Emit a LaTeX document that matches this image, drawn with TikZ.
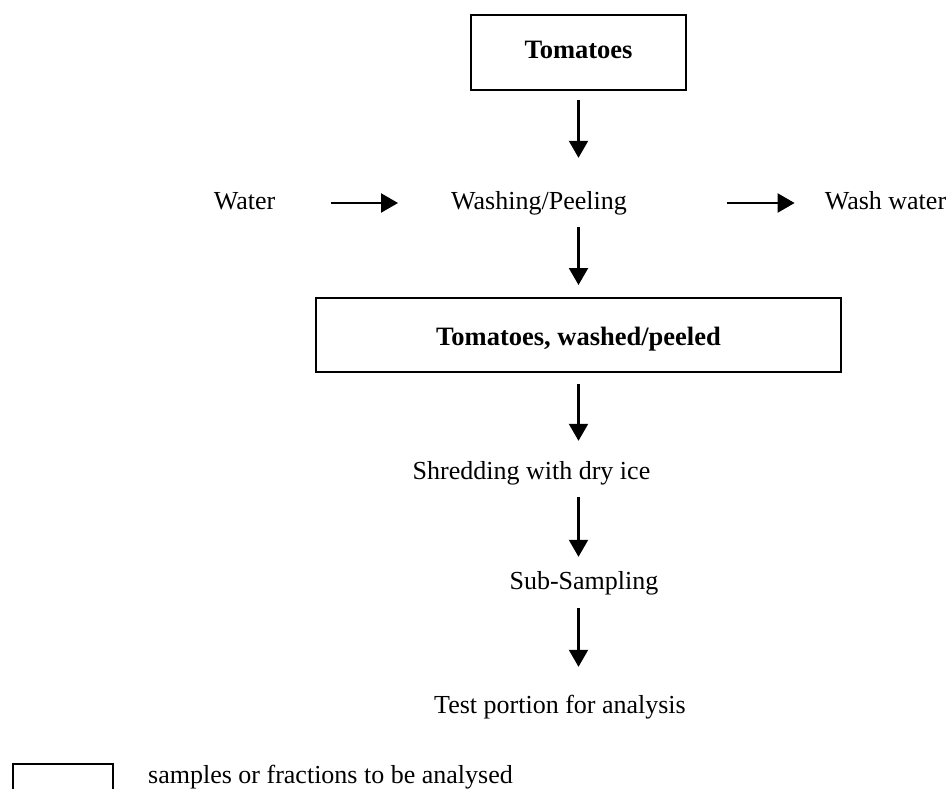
\documentclass[tikz,border=0pt]{standalone}
\usepackage{fontspec}
\setmainfont{Liberation Serif}
\usetikzlibrary{arrows.meta,positioning}

\begin{document}
\begin{tikzpicture}[x=1pt, y=-1pt,
    every node/.style={font=\fontsize{26}{31}\selectfont, inner sep=0pt, text height=18pt, text depth=6pt},
    samplebox/.style={draw, line width=2pt, font=\fontsize{26.5}{31}\selectfont\bfseries},
    flow/.style={line width=2.2pt, -{Triangle[width=19pt,length=17pt]}}]
    \useasboundingbox (0,0) rectangle (951,789);
    \clip (0,0) rectangle (951,789);

    % Samples (boxed)
    \node[samplebox, minimum width=215, minimum height=75] (tom) at (578.5,52.5) {Tomatoes};
    \node[samplebox, minimum width=525, minimum height=74, text height=22pt, text depth=2pt] (washed) at (578.5,335) {Tomatoes, washed/peeled};

    % Process steps
    \node (water) at (244.5,203) {Water};
    \node (wash) at (539,203) {Washing/Peeling};
    \node (wwater) at (885.5,203) {Wash water};
    \node (shred) at (531.5,473) {Shredding with dry ice};
    \node (sub) at (584,583) {Sub-Sampling};
    \node (test) at (560,707) {Test portion for analysis};

    % Flow arrows
    \draw[flow, shorten <=9pt, shorten >=33pt] (tom.south) -- (tom.south |- wash.north);
    \draw[flow, shorten <=56pt, shorten >=53pt] (water) -- (wash);
    \draw[flow, shorten <=100pt, shorten >=30pt] (wash) -- (wwater);
    \draw[flow, shorten <=12pt, shorten >=12pt] (tom.south |- wash.south) -- (washed.north);
    \draw[flow, shorten <=11pt, shorten >=20pt] (washed.south) -- (washed.south |- shred.north);
    \draw[flow, shorten <=12pt, shorten >=14pt] (washed.south |- shred.south) -- (washed.south |- sub.north);
    \draw[flow, shorten <=13pt, shorten >=28pt] (washed.south |- sub.south) -- (washed.south |- test.north);

    % Key
    \node[samplebox, minimum width=100, minimum height=60, anchor=north west] (key) at (12,763) {};
    \node[anchor=west] (keytext) at (148,777) {samples or fractions to be analysed};
\end{tikzpicture}
\end{document}
